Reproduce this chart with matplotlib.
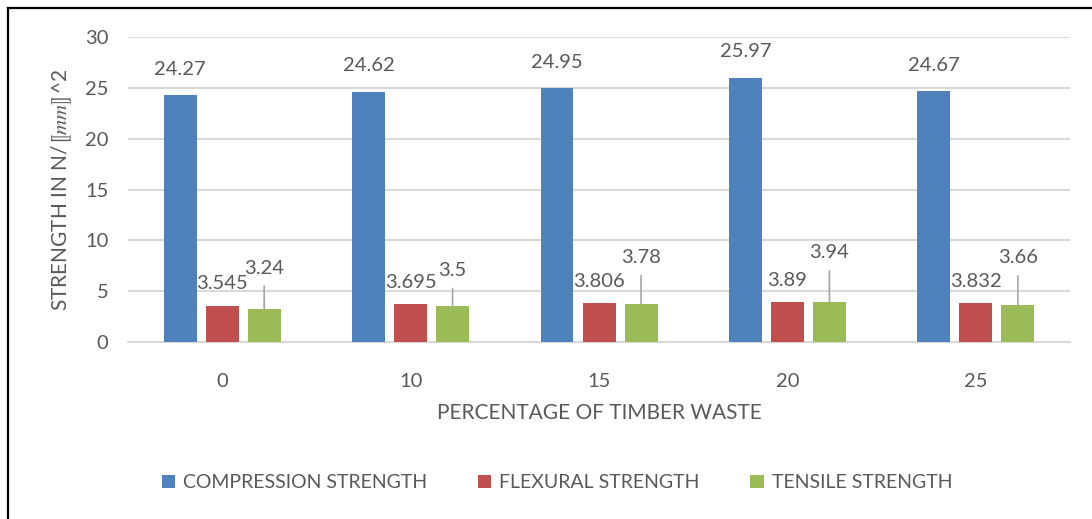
import matplotlib
matplotlib.use("Agg")
import matplotlib.pyplot as plt
import numpy as np
from matplotlib.lines import Line2D

plt.rcParams['font.family'] = ['Lato', 'DejaVu Sans']
plt.rcParams['mathtext.fontset'] = 'stix'

categories = ['0', '10', '15', '20', '25']
compression = [24.27, 24.62, 24.95, 25.97, 24.67]
flexural = [3.545, 3.695, 3.806, 3.89, 3.832]
tensile = [3.24, 3.5, 3.78, 3.94, 3.66]
series_names = ['COMPRESSION STRENGTH', 'FLEXURAL STRENGTH', 'TENSILE STRENGTH']

blue = '#4f81bd'
red = '#c0504d'
green = '#9bbb59'
txt = '#595959'
grid = '#d9d9d9'

fig = plt.figure(figsize=(10.92, 5.19), dpi=100)
ax = fig.add_axes([0.1172, 0.341, 0.8627, 0.5877])

x = np.arange(len(categories))
w = 0.175
off = 0.223
b1 = ax.bar(x - off, compression, w, color=blue, zorder=3, label=series_names[0])
b2 = ax.bar(x, flexural, w, color=red, zorder=3, label=series_names[1])
b3 = ax.bar(x + off, tensile, w, color=green, zorder=3, label=series_names[2])

ax.set_xlim(-0.5, len(categories) - 0.5)
ax.set_ylim(0, 30)
ax.set_yticks(range(0, 31, 5))
ax.set_xticks(x)
ax.set_xticklabels(categories)
ax.yaxis.grid(True, color=grid, linewidth=1.5, zorder=0)
for s in ['top', 'right', 'left']:
    ax.spines[s].set_visible(False)
ax.spines['bottom'].set_color(grid)
ax.spines['bottom'].set_linewidth(1.5)
ax.tick_params(axis='both', length=0, labelsize=14.5, colors=txt)
ax.tick_params(axis='x', pad=22)
ax.tick_params(axis='y', pad=14)

ax.set_xlabel('PERCENTAGE OF TIMBER WASTE', fontsize=15, color=txt, labelpad=10)
ax.set_ylabel('STRENGTH IN N/$⟦mm⟧$^2', fontsize=15, color=txt, labelpad=8)

for xi, v in zip(x, compression):
    ax.annotate(f'{v:g}', (xi - off, v), xytext=(0, 26), textcoords='offset pixels',
                ha='center', va='center', fontsize=14.5, color=txt, zorder=5)
for xi, v in zip(x, flexural):
    ax.annotate(f'{v:g}', (xi, v), xytext=(0, 22), textcoords='offset pixels',
                ha='center', va='center', fontsize=14.5, color=txt, zorder=5)

# tensile labels sit higher with a leader line
lift = [41, 36, 46, 49, 47]
for xi, v, d in zip(x, tensile, lift):
    ax.annotate(f'{v:g}', (xi + off, v), xytext=(0, d), textcoords='offset pixels',
                ha='center', va='center', fontsize=14.5, color=txt, zorder=5)
    ax.annotate('', (xi + off, v), xytext=(0, d - 18), textcoords='offset pixels',
                xycoords='data',
                arrowprops=dict(arrowstyle='-', color='#a6a6a6', lw=1.2,
                                shrinkA=0, shrinkB=0), zorder=4)

leg = fig.legend(handles=[b1, b2, b3], loc='center', bbox_to_anchor=(0.51, 0.07),
                 ncol=3, frameon=False, fontsize=14, handlelength=0.7,
                 handleheight=0.7, handletextpad=0.4, columnspacing=2.6)
for t in leg.get_texts():
    t.set_color(txt)

# outer frame (top and left edges visible)
fig.add_artist(Line2D([0.0073, 1.0], [1 - 8 / 519, 1 - 8 / 519], color='black', lw=1.6,
                      transform=fig.transFigure))
fig.add_artist(Line2D([0.0073, 0.0073], [0.0, 1 - 8 / 519], color='black', lw=1.6,
                      transform=fig.transFigure))

fig.savefig('out.png', dpi=100)
